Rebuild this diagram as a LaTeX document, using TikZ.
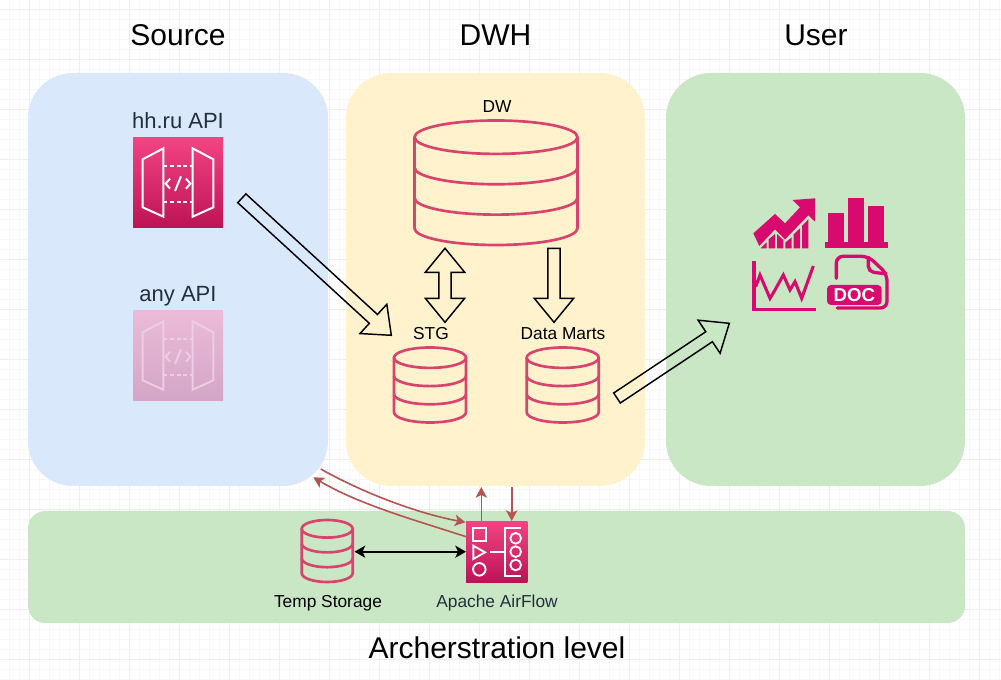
\documentclass[tikz,border=0pt]{standalone}
\usepackage{fontspec}
\setmainfont{Liberation Sans}
\usetikzlibrary{calc,arrows.meta}
\definecolor{gridmin}{HTML}{F8F8F8}
\definecolor{gridmaj}{HTML}{EEEEEE}
\definecolor{srcblue}{HTML}{DAE8FC}
\definecolor{dwhyel}{HTML}{FFF2CC}
\definecolor{usrgreen}{HTML}{C9E7C4}
\definecolor{cylred}{HTML}{D9446E}
\definecolor{iconpink}{HTML}{D80A6E}
\definecolor{linkred}{HTML}{B85450}
\definecolor{inkdark}{HTML}{232F3E}
\definecolor{gradtop}{HTML}{F34482}
\definecolor{gradbot}{HTML}{BC1356}
\definecolor{fadetop}{HTML}{EBBBD8}
\definecolor{fadebot}{HTML}{D3A5C6}
\definecolor{fadeline}{HTML}{EDCDE2}
\tikzset{
  areabox/.style={draw=none,inner sep=0pt,rounded corners=33.75pt},
  titletext/.style={font=\fontsize{22.5}{26}\selectfont,text=black,inner sep=0pt},
  apitext/.style={font=\fontsize{16.5}{20}\selectfont,text=inkdark,inner sep=0pt},
  smalltext/.style={font=\fontsize{13}{16}\selectfont,text=black,inner sep=0pt},
  cylline/.style={draw=cylred,line width=2pt,line join=round},
  blockline/.style={draw=black,line width=1.1pt,line join=miter},
  redlink/.style={draw=linkred,line width=1.2pt,-{Stealth[length=8pt,width=8.5pt,inset=2pt]}},
  blacklink/.style={draw=black,line width=1.4pt,{Stealth[length=8pt,width=9pt,inset=2pt]}-{Stealth[length=8pt,width=9pt,inset=2pt]}},
  iconbox/.style={inner sep=0pt,minimum width=67.5pt,minimum height=67.5pt},
  chartline/.style={draw=iconpink,line width=2.3pt,line join=miter},
}
% cylinder: name, x1, y1, x2, y2, ry
\newcommand{\dbcyl}[6]{%
  \pgfmathsetmacro{\cxv}{(#2+#4)/2}%
  \pgfmathsetmacro{\cyv}{(#3+#5)/2}%
  \pgfmathsetmacro{\rxv}{(#4-#2)/2*0.75}%
  \pgfmathsetmacro{\ryv}{#6*0.75}%
  \pgfmathsetmacro{\wv}{(#4-#2)*0.75}%
  \pgfmathsetmacro{\hv}{(#5-#3)*0.75}%
  \pgfmathsetmacro{\yza}{#3+#6}%
  \pgfmathsetmacro{\stepv}{(#5-#3-2*#6)/3}%
  \pgfmathsetmacro{\yzb}{\yza+\stepv}%
  \pgfmathsetmacro{\yzc}{\yza+2*\stepv}%
  \pgfmathsetmacro{\yzd}{\yza+3*\stepv}%
  \node[inner sep=0pt,minimum width=\wv pt,minimum height=\hv pt] (#1) at (\cxv,\cyv) {};
  \draw[cylline] (\cxv,\yza) ellipse [x radius=\rxv pt,y radius=\ryv pt];
  \draw[cylline] (#2,\yza) -- (#2,\yzd) arc [start angle=180,end angle=360,x radius=\rxv pt,y radius=\ryv pt] -- (#4,\yza);
  \draw[cylline] (#2,\yzb) arc [start angle=180,end angle=360,x radius=\rxv pt,y radius=\ryv pt];
  \draw[cylline] (#2,\yzc) arc [start angle=180,end angle=360,x radius=\rxv pt,y radius=\ryv pt];
}
% block arrow from a to b: half tail, half head, head length (pt)
\newcommand{\blockarrow}[5]{%
  \coordinate (ba) at ($(#2)!#5!(#1)$);
  \draw[blockline]
    ($(#1)!#3!90:(#2)$) -- ($(ba)!#3!90:(#2)$) -- ($(ba)!#4!90:(#2)$) -- (#2)
    -- ($(ba)!#4!-90:(#2)$) -- ($(ba)!#3!-90:(#2)$) -- ($(#1)!#3!-90:(#2)$) -- cycle;
}
% API gateway icon art, origin at top-left of icon
\newcommand{\apiart}[2]{%
  \begin{scope}[shift={(#1)},xshift=-9.75pt,x=0.25pt,y=-0.25pt,draw=#2,line width=1.5pt,line join=miter]
    \draw (68,64) -- (130,31) -- (130,236) -- (68,208) -- cycle;
    \draw (218,31) -- (280,64) -- (280,208) -- (218,236) -- cycle;
    \draw[dash pattern=on 3pt off 2pt] (130,83) -- (218,83);
    \draw[dash pattern=on 3pt off 2pt] (130,191) -- (218,191);
    \draw (150,122) -- (137,137) -- (150,152);
    \draw (198,122) -- (211,137) -- (198,152);
    \draw (165,159) -- (183,115);
  \end{scope}
}
\begin{document}
\begin{tikzpicture}[x=0.75pt,y=-0.75pt]
\useasboundingbox (0,0) rectangle (1001,680);
\fill[white] (0,0) rectangle (1001,680);
% grid
\foreach \i in {0,...,99} {
  \draw[gridmin,line width=0.75pt] (9+10*\i,0) -- (9+10*\i,680);
}
\foreach \i in {0,...,68} {
  \draw[gridmin,line width=0.75pt] (0,10*\i) -- (1001,10*\i);
}
\foreach \i in {0,...,19} {
  \draw[gridmaj,line width=0.75pt] (29+50*\i,0) -- (29+50*\i,680);
}
\foreach \i in {0,...,13} {
  \draw[gridmaj,line width=0.75pt] (0,10+50*\i) -- (1001,10+50*\i);
}
% areas
\node[areabox,fill=srcblue,minimum width=225pt,minimum height=309.75pt] (source) at (178,279.5) {};
\node[areabox,fill=dwhyel,minimum width=224.25pt,minimum height=309.75pt] (dwh) at (495.5,279.5) {};
\node[areabox,fill=usrgreen,minimum width=224.25pt,minimum height=309.75pt] (user) at (815.5,279.5) {};
\node[areabox,fill=usrgreen,rounded corners=13pt,minimum width=702.75pt,minimum height=84pt] (orch) at (496.5,567) {};
% titles
\node[titletext] (tsrc) at (178,35.5) {Source};
\node[titletext] (tdwh) at (495.5,35.5) {DWH};
\node[titletext] (tusr) at (816,35.5) {User};
\node[titletext] (torch) at (497,648) {Archerstration level};
% api icons
\node[apitext] (thh) at (178,121) {hh.ru API};
\node[iconbox,top color=gradtop,bottom color=gradbot] (hhapi) at (178,183) {};
\apiart{133,138}{white}
\node[apitext] (tany) at (178,296) {any API};
\node[iconbox,top color=fadetop,bottom color=fadebot] (anyapi) at (178,356) {};
\apiart{133,311}{fadeline}
% cylinders
\dbcyl{dw}{414.5}{120.5}{577.5}{245}{16.7}
\dbcyl{stg}{394}{347.5}{466}{422.5}{10.2}
\dbcyl{marts}{526.7}{347.5}{598.7}{422.5}{10.2}
\dbcyl{temp}{301.7}{520}{352.7}{582}{8.8}
\node[smalltext] (tdw) at (497,106.5) {DW};
\node[smalltext] (tstg) at (431,333.5) {STG};
\node[smalltext] (tmarts) at (563,334) {Data Marts};
\node[smalltext] (ttemp) at (328,603) {Temp Storage};
% airflow
\node[inner sep=0pt,minimum width=46pt,minimum height=46pt,top color=gradtop,bottom color=gradbot] (airflow) at (496.7,551.8) {};
\begin{scope}[shift={(290,460)},x=0.25pt,y=-0.25pt,draw=white,line width=1.4pt]
  \draw (550,205) rectangle (588,242);
  \draw (550,257) -- (585,277) -- (550,297) -- cycle;
  \draw (568,328) circle [radius=4.7pt];
  \draw (600,275) -- (645,275);
  \draw (692,205) -- (645,205) -- (645,347) -- (692,347);
  \draw (677,235) circle [radius=4pt];
  \draw (677,275) circle [radius=4pt];
  \draw (677,315) circle [radius=4pt];
\end{scope}
\node[smalltext,text=inkdark] (taf) at (497,603) {Apache AirFlow};
% chart icons
\begin{scope}[shift={(740,190)},x=0.25pt,y=-0.25pt]
  \fill[iconpink] (40,130) -- (105,72) -- (135,100) -- (180,52) -- (158,30) -- (225,25) -- (225,95) -- (205,76) -- (135,148) -- (105,118) -- (58,168) -- cycle;
  \fill[iconpink] (62,175) -- (80,157) -- (80,175) -- cycle;
  \fill[iconpink] (86,148) -- (105,132) -- (105,175) -- (86,175) -- cycle;
  \fill[iconpink] (111,132) -- (130,150) -- (130,175) -- (111,175) -- cycle;
  \fill[iconpink] (136,158) -- (155,142) -- (155,175) -- (136,175) -- cycle;
  \fill[iconpink] (161,133) -- (180,115) -- (180,175) -- (161,175) -- cycle;
  \fill[iconpink] (186,108) -- (205,88) -- (205,175) -- (186,175) -- cycle;
  \fill[iconpink] (265,70) rectangle (312,155);
  \fill[iconpink] (325,25) rectangle (372,155);
  \fill[iconpink] (385,47) rectangle (432,155);
  \fill[iconpink] (255,157) rectangle (443,175);
  \draw[chartline] (42,212) -- (42,358) -- (227,358);
  \draw[chartline] (47,290) -- (60,255) -- (90,325) -- (105,300) -- (130,255) -- (150,300) -- (165,275) -- (185,325) -- (220,228);
  \draw[draw=iconpink,line width=2.5pt,rounded corners=5pt,line cap=round] (289,265) -- (289,199) -- (385,199) -- (441,252) -- (441,354) -- (292,354);
  \draw[draw=iconpink,line width=2.5pt,rounded corners=4pt] (385,199) -- (385,245) -- (441,252);
  \node[inner sep=0pt,fill=iconpink,rounded corners=3pt,minimum width=41pt,minimum height=15pt,text=white,font=\bfseries\fontsize{14}{15}\selectfont] (doc) at (343,315) {DOC};
\end{scope}
% block arrows
\coordinate (a1s) at (241.8,198.3);
\coordinate (a1e) at (391.3,335.3);
\blockarrow{a1s}{a1e}{4.5pt}{14.9pt}{18.2pt}
\coordinate (a4s) at (617,398);
\coordinate (a4e) at (729.3,323.3);
\blockarrow{a4s}{a4e}{4.5pt}{14.9pt}{18.2pt}
\coordinate (a3s) at (554,248.3);
\coordinate (a3e) at (554,322.3);
\blockarrow{a3s}{a3e}{4.6pt}{14.8pt}{18pt}
\coordinate (a2s) at (445,248.3);
\coordinate (a2e) at (445,322.3);
\draw[blockline] (a2s) -- ($(a2s)+(19.7,24)$) -- ($(a2s)+(6.2,24)$) -- ($(a2e)+(6.2,-24)$) -- ($(a2e)+(19.7,-24)$) -- (a2e)
  -- ($(a2e)+(-19.7,-24)$) -- ($(a2e)+(-6.2,-24)$) -- ($(a2s)+(-6.2,24)$) -- ($(a2s)+(-19.7,24)$) -- cycle;
% links
\coordinate (srcA) at (320.7,469);
\coordinate (srcB) at (313.3,477.3);
\coordinate (afA) at (465.5,522.3);
\coordinate (afB) at (466,536.7);
\coordinate (afUp) at (481.3,521);
\coordinate (afDn) at (511.7,521);
\draw[redlink] (srcA) .. controls (365,494) and (420,514) .. (afA);
\draw[redlink] (afB) .. controls (415,520) and (360,505) .. (srcB);
\draw[redlink] (afUp) -- (afUp |- 0,487);
\draw[redlink] (afDn |- 0,487) -- (afDn);
\coordinate (tmpR) at (354.5,551.7);
\coordinate (afL) at (466,551.7);
\draw[blacklink] (tmpR) -- (afL);
\end{tikzpicture}
\end{document}
